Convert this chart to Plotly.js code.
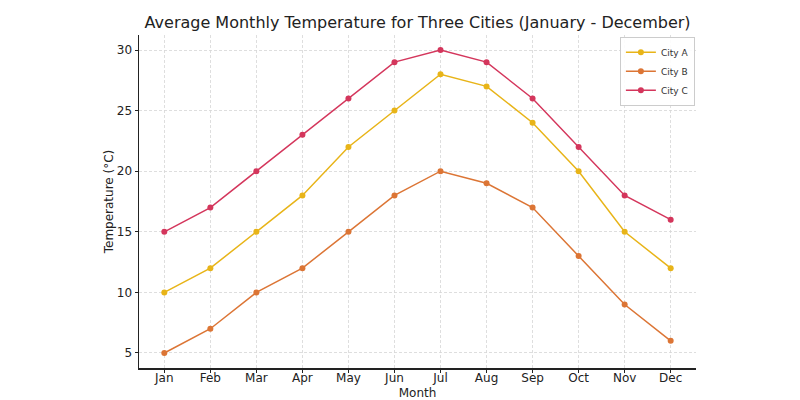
<!DOCTYPE html>
<html>
<head>
<meta charset="utf-8">
<script src="https://cdn.plot.ly/plotly-3.0.1.min.js"></script>
<style>body{margin:0;background:#fff}#chart{width:800px;height:400px}</style>
</head>
<body>
<div id="chart"></div>
<script>
const months = ["Jan","Feb","Mar","Apr","May","Jun","Jul","Aug","Sep","Oct","Nov","Dec"];
const cityA = [10,12,15,18,22,25,28,27,24,20,15,12];
const cityB = [5,7,10,12,15,18,20,19,17,13,9,6];
const cityC = [15,17,20,23,26,29,30,29,26,22,18,16];
const seriesNames = ["City A","City B","City C"];
const colors = ["#e8b418","#dc7535","#d4365c"];
const series = [cityA, cityB, cityC];

const traces = series.map((ys, i) => ({
  x: months.map((m, j) => j),
  y: ys,
  name: seriesNames[i],
  type: "scatter",
  mode: "lines+markers",
  line: {color: colors[i], width: 1.5},
  marker: {color: colors[i], size: 6}
}));

const font = "DejaVu Sans, sans-serif";
const layout = {
  width: 800, height: 400,
  margin: {l: 139, r: 104, t: 35, b: 32},
  paper_bgcolor: "#fff", plot_bgcolor: "#fff",
  title: {text: "Average Monthly Temperature for Three Cities (January - December)",
          font: {family: font, size: 16, color: "#222"}, x: 0.522, xanchor: "center", y: 0.945, yanchor: "middle"},
  font: {family: font, size: 12, color: "#222"},
  xaxis: {
    range: [-0.55, 11.55],
    tickvals: months.map((m, j) => j), ticktext: months,
    showgrid: true, gridcolor: "#d6d6d6", griddash: "3px,2px", gridwidth: 0.8,
    showline: true, linecolor: "#222", linewidth: 1.5,
    ticks: "outside", ticklen: 3, tickcolor: "#222",
    ticklabelstandoff: -5,
    zeroline: false,
    tickfont: {family: font, size: 12, color: "#222"},
    title: {text: "Month", font: {family: font, size: 12, color: "#222"}, standoff: 4}
  },
  yaxis: {
    range: [3.76, 31.24],
    tickvals: [5,10,15,20,25,30],
    showgrid: true, gridcolor: "#d6d6d6", griddash: "3px,2px", gridwidth: 0.8,
    showline: true, linecolor: "#222", linewidth: 1.5,
    ticks: "outside", ticklen: 3, tickcolor: "#222",
    zeroline: false,
    tickfont: {family: font, size: 12, color: "#222"},
    title: {text: "Temperature (°C)", font: {family: font, size: 12, color: "#222"}, standoff: 0}
  },
  legend: {
    x: 0.998, xanchor: "right", y: 0.995, yanchor: "top",
    bgcolor: "rgba(255,255,255,0.9)", bordercolor: "#ccc", borderwidth: 1,
    font: {family: font, size: 9, color: "#333"},
    tracegroupgap: 0, itemwidth: 30
  },
  showlegend: true
};

Plotly.newPlot("chart", traces, layout, {displayModeBar: false, staticPlot: true});
</script>
</body>
</html>
